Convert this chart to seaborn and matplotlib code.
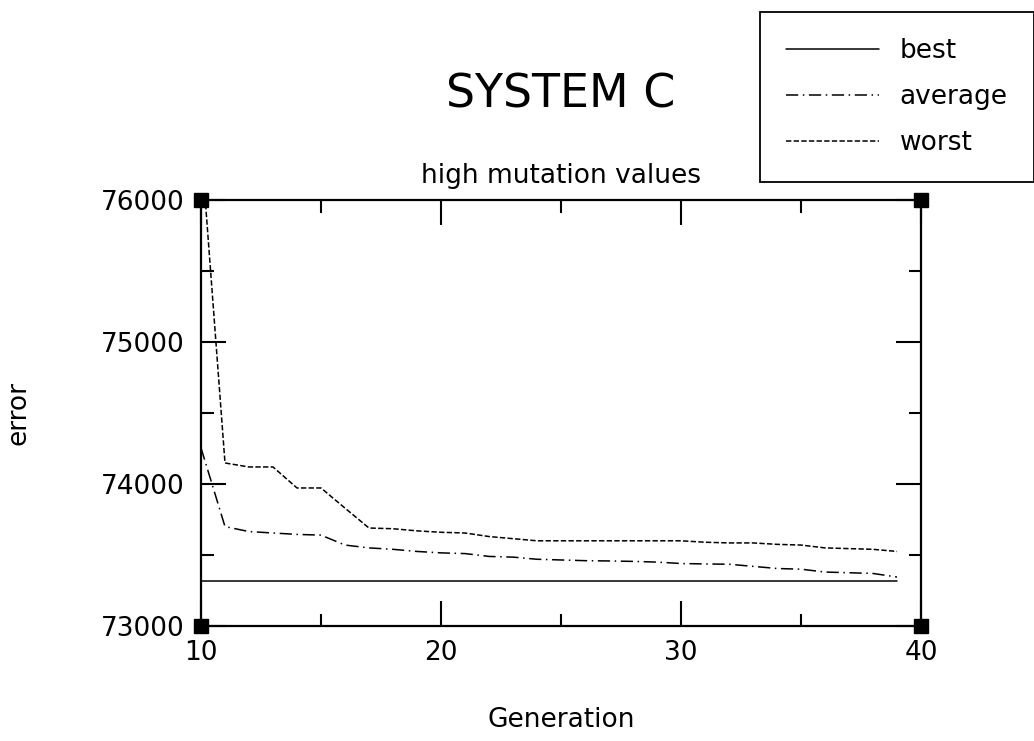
import numpy as np
import pandas as pd
import matplotlib
matplotlib.use("Agg")
import matplotlib.pyplot as plt
from matplotlib.ticker import MultipleLocator
import seaborn as sns

generations = list(range(10, 40))
best = [73320] * 30
average = [74254, 73700, 73665, 73655, 73645, 73640, 73570, 73550, 73540, 73525,
           73515, 73510, 73490, 73485, 73470, 73465, 73460, 73458, 73455, 73450,
           73440, 73437, 73435, 73420, 73405, 73400, 73380, 73375, 73370, 73345]
worst = [76400, 74148, 74120, 74120, 73972, 73972, 73830, 73690, 73685, 73670,
         73660, 73655, 73630, 73615, 73600, 73600, 73600, 73600, 73600, 73600,
         73600, 73590, 73585, 73585, 73575, 73570, 73550, 73545, 73540, 73525]
series_names = ["best", "average", "worst"]
x_limits = [10, 40]
y_limits = [73000, 76000]

df = pd.DataFrame({
    "Generation": generations * 3,
    "error": best + average + worst,
    "series": [n for n in series_names for _ in generations],
})

sns.set_style("white")
plt.rcParams["font.family"] = ["DejaVu Sans"]
plt.rcParams.update({"text.color": "black", "axes.labelcolor": "black",
                     "xtick.color": "black", "ytick.color": "black"})

fig = plt.figure(figsize=(10.34, 7.41), dpi=100)
ax = fig.add_axes([201 / 1034, 1 - 626 / 741, 720 / 1034, 426 / 741])

sns.lineplot(data=df, x="Generation", y="error", style="series",
             dashes={"best": "", "average": (8, 3, 1, 3), "worst": (3.5, 1.5)},
             color="black", linewidth=1.1, ax=ax, legend=True)

ax.set_xlim(x_limits)
ax.set_ylim(y_limits)
ax.xaxis.set_major_locator(MultipleLocator(10))
ax.xaxis.set_minor_locator(MultipleLocator(5))
ax.yaxis.set_major_locator(MultipleLocator(1000))
ax.yaxis.set_minor_locator(MultipleLocator(500))
ax.tick_params(which="both", direction="in", top=True, right=True, bottom=True, left=True,
               width=1.5, color="black")
ax.tick_params(which="major", length=18, labelsize=19, pad=10)
ax.tick_params(which="minor", length=9)
ax.tick_params(axis="y", which="major", pad=12)
for s in ax.spines.values():
    s.set_linewidth(1.6)
    s.set_color("black")

# black squares on the corners
cx, cy = np.meshgrid(x_limits, y_limits)
ax.plot(cx.ravel(), cy.ravel(), "s", color="black", markersize=10, clip_on=False, zorder=5)

ax.set_xlabel("Generation", fontsize=19)
ax.set_ylabel("error", fontsize=19)
ax.xaxis.set_label_coords(0.5, -0.19)
ax.yaxis.set_label_coords(-0.235, 0.5)

ax.set_title("high mutation values", fontsize=19, pad=12)
fig.text(561 / 1034, 1 - 95 / 741, "SYSTEM C", fontsize=33, ha="center", va="center")

handles, labels = ax.get_legend_handles_labels()
leg = ax.legend(handles, labels, loc="upper left",
                bbox_to_anchor=(760 / 1034, 1 - 12 / 741), bbox_transform=fig.transFigure,
                fontsize=19, frameon=True, fancybox=False, edgecolor="black",
                handlelength=3.5, handletextpad=0.8, labelspacing=0.75, borderpad=1.0,
                borderaxespad=0)
leg.get_frame().set_linewidth(1.3)
leg.get_frame().set_alpha(1)

fig.savefig("out.png", dpi=100, facecolor="white")
